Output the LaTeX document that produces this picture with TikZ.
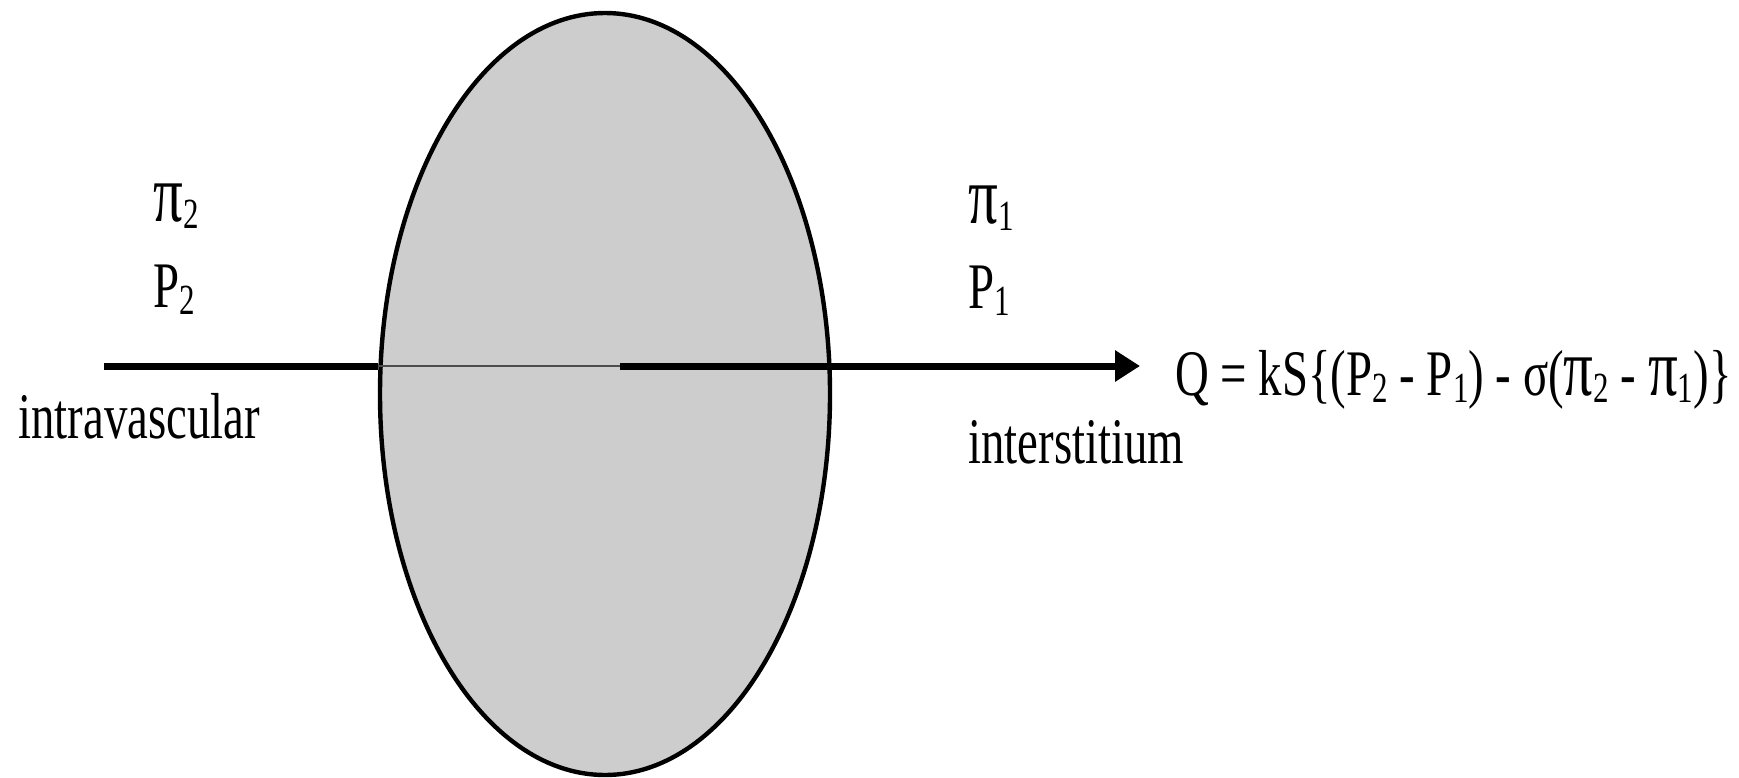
\documentclass[tikz,border=0pt]{standalone}
\usepackage{fontspec}
\usetikzlibrary{shapes.geometric,arrows.meta}
\newfontfamily\tfont[FakeStretch=0.72]{Liberation Serif}
\newcommand\sbs[1]{\raisebox{-0.12em}{\fontsize{21.5}{22}\selectfont #1}}
\newcommand\bigpi{{\fontsize{41}{41}\selectfont π}}
\definecolor{membranegray}{RGB}{205,205,205}
\tikzset{
  lbl/.style={anchor=base west,inner sep=0pt,font=\tfont\fontsize{32.5}{39}\selectfont},
  thickline/.style={line width=3.5pt,black},
  thinline/.style={line width=1pt,black!70},
}
\begin{document}
\begin{tikzpicture}[x=0.5pt,y=-0.5pt]
\useasboundingbox (0,0) rectangle (1739,777);
\node[ellipse,draw=black,line width=2.2pt,fill=membranegray,inner sep=0pt,
      minimum width=225pt,minimum height=381pt] (membrane) at (605,394) {};
\coordinate (start) at (104,366);
\coordinate (mid) at (620,366);
\node[lbl] (pi2) at (153,221) {\bigpi\sbs{2}};
\node[lbl] (p2) at (153,307) {P\sbs{2}};
\node[lbl] (pi1) at (968,223) {\bigpi\sbs{1}};
\node[lbl] (p1) at (968,308) {P\sbs{1}};
\node[lbl] (intra) at (18,438) {intravascular};
\node[lbl] (inter) at (968,463) {interstitium};
\node[lbl] (eq) at (1175,395) {Q = kS\{(P\sbs{2} - P\sbs{1}) - σ(\bigpi\sbs{2} - \bigpi\sbs{1})\}};
\coordinate (tip) at (1140,366);
\draw[thickline] (start) -- (start -| membrane.west);
\draw[thinline] (start -| membrane.west) -- (mid);
\draw[thickline,-{Triangle[length=12.5pt,width=15pt]}] (mid) -- (tip);
\end{tikzpicture}
\end{document}
